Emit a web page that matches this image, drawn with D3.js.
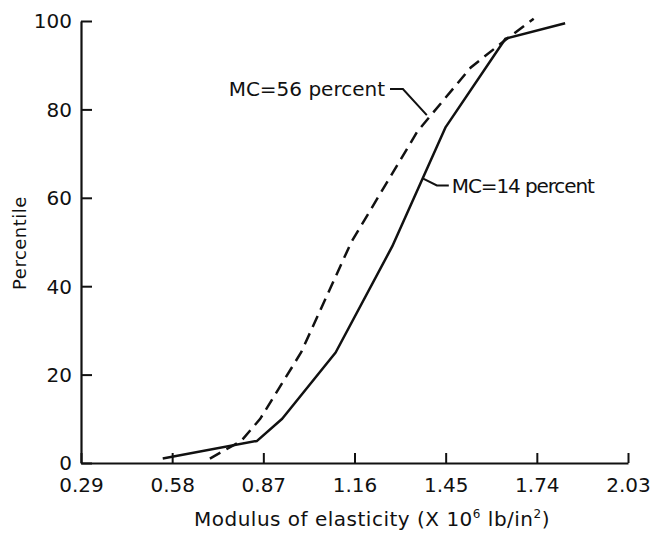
<!DOCTYPE html>
<html>
<head>
<meta charset="utf-8">
<script src="https://cdn.jsdelivr.net/npm/d3@7"></script>
<style>
  body { margin: 0; background: #fff; }
  svg { display: block; }
  text { font-family: "DejaVu Sans", sans-serif; fill: #111; }
</style>
</head>
<body>
<div id="chart"></div>
<script>
// tick values
const xTicks = [0.29, 0.58, 0.87, 1.16, 1.45, 1.74, 2.03];
const yTicks = [0, 20, 40, 60, 80, 100];

// MC = 14 percent (solid)
const dryMoe = [0.55, 0.85, 0.93, 1.10, 1.28, 1.45, 1.64, 1.83];
const dryPct = [1, 5, 10, 25, 49, 76, 96, 99.5];

// MC = 56 percent (dashed)
const wetMoe = [0.70, 0.80, 0.86, 0.99, 1.15, 1.36, 1.53, 1.645, 1.73];
const wetPct = [1, 5, 10, 25, 50, 75, 89.5, 96, 100.5];

// annotation leaders, in data units: curve point, elbow, end
const wetLeader = [[1.39, 78.7], [1.314, 84.6], [1.273, 84.6]];
const dryLeader = [[1.377, 64.4], [1.422, 62.8], [1.46, 62.8]];

const width = 653;
const height = 533;

const svg = d3.select("#chart")
    .append("svg")
    .attr("width", width)
    .attr("height", height);

const xScale = d3.scaleLinear()
    .domain([0.29, 2.03])
    .range([81, 628]);

const yScale = d3.scaleLinear()
    .domain([0, 100])
    .range([463, 21]);

const xAxis = d3.axisBottom(xScale)
    .tickValues(xTicks)
    .tickFormat(d3.format(".2f"))
    .tickSize(-10)
    .tickSizeOuter(0)
    .tickPadding(15);

const yAxis = d3.axisLeft(yScale)
    .tickValues(yTicks)
    .tickSize(-11)
    .tickSizeOuter(0)
    .tickPadding(9);

const gx = svg.append("g")
    .attr("transform", "translate(0," + yScale(0) + ")")
    .call(xAxis);

const gy = svg.append("g")
    .attr("transform", "translate(" + xScale(0.29) + ",0)")
    .call(yAxis);

[gx, gy].forEach(g => {
    g.selectAll(".domain").attr("stroke", "#111").attr("stroke-width", 2.2);
    g.selectAll(".tick line").attr("stroke", "#111").attr("stroke-width", 2);
    g.selectAll(".tick text")
        .attr("fill", "#111")
        .style("font-family", "'DejaVu Sans', sans-serif")
        .style("font-size", "20px");
});
gy.selectAll(".tick text").attr("dy", "0.34em");

const line = d3.line()
    .x(d => xScale(d[0]))
    .y(d => yScale(d[1]));

svg.append("path")
    .datum(dryMoe.map((v, i) => [v, dryPct[i]]))
    .attr("d", line)
    .attr("fill", "none")
    .attr("stroke", "#111")
    .attr("stroke-width", 2.5)
    .attr("stroke-linejoin", "round");

svg.append("path")
    .datum(wetMoe.map((v, i) => [v, wetPct[i]]))
    .attr("d", line)
    .attr("fill", "none")
    .attr("stroke", "#111")
    .attr("stroke-width", 2.5)
    .attr("stroke-dasharray", "12,7");

// annotations
[wetLeader, dryLeader].forEach(pts => {
    svg.append("path")
        .datum(pts)
        .attr("d", line)
        .attr("fill", "none")
        .attr("stroke", "#111")
        .attr("stroke-width", 2);
});

svg.append("text")
    .attr("x", xScale(wetLeader[2][0]) - 5)
    .attr("y", yScale(wetLeader[2][1]))
    .attr("dy", "0.36em")
    .attr("text-anchor", "end")
    .style("font-size", "20px")
    .text("MC=56 percent");

svg.append("text")
    .attr("x", xScale(dryLeader[2][0]) + 3)
    .attr("y", yScale(dryLeader[2][1]))
    .attr("dy", "0.36em")
    .attr("textLength", 143)
    .attr("lengthAdjust", "spacing")
    .style("font-size", "20px")
    .text("MC=14 percent");

// axis titles
svg.append("text")
    .attr("transform", "translate(26," + 243 + ") rotate(-90)")
    .attr("text-anchor", "middle")
    .style("font-size", "18px")
    .style("letter-spacing", "0.5px")
    .text("Percentile");

const xTitle = svg.append("text")
    .attr("x", 372)
    .attr("y", 526)
    .attr("text-anchor", "middle")
    .style("font-size", "20px")
    .style("letter-spacing", "0.5px");
xTitle.append("tspan").text("Modulus of elasticity  (X 10");
xTitle.append("tspan").attr("dy", -8).style("font-size", "12px").text("6");
xTitle.append("tspan").attr("dy", 8).text(" lb/in");
xTitle.append("tspan").attr("dy", -8).style("font-size", "12px").text("2");
xTitle.append("tspan").attr("dy", 8).text(")");
</script>
</body>
</html>
